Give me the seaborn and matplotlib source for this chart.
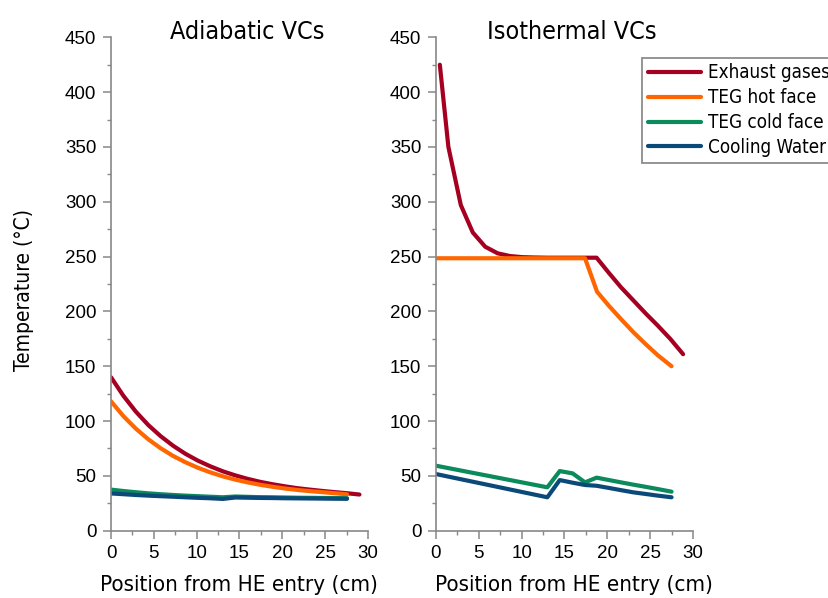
import matplotlib
matplotlib.use("Agg")
import matplotlib.pyplot as plt
from matplotlib import font_manager
from matplotlib.ticker import MultipleLocator
import seaborn as sns
import pandas as pd

# ---------------- data ----------------
series_names = ["Exhaust gases", "TEG hot face", "TEG cold face", "Cooling Water"]
colors = ["#A50021", "#FF6600", "#0B8A5C", "#0B4A78"]

# Adiabatic VCs
adi_x_exh = [0, 1.45, 2.9, 4.35, 5.8, 7.25, 8.7, 10.15, 11.6, 13.05, 14.5, 15.95,
             17.4, 18.85, 20.3, 21.75, 23.2, 24.65, 26.1, 27.55, 29.0]
adi_exh = [140, 123.0, 108.6, 96.4, 86.2, 77.5, 70.1, 63.9, 58.7, 54.2, 50.5, 47.3,
           44.6, 42.4, 40.5, 38.8, 37.5, 36.3, 35.2, 34.2, 33.0]
adi_x = [0, 1.45, 2.9, 4.35, 5.8, 7.25, 8.7, 10.15, 11.6, 13.05, 14.5, 15.95,
         17.4, 18.85, 20.3, 21.75, 23.2, 24.65, 26.1, 27.55]
adi_hot = [118, 104.5, 93.1, 83.4, 75.2, 68.2, 62.4, 57.4, 53.2, 49.6, 46.6, 44.1,
           41.9, 40.1, 38.5, 37.2, 36.1, 35.2, 34.2, 33.2]
adi_cold = [37.5, 36.2, 35.1, 34.1, 33.3, 32.6, 32.0, 31.5, 31.0, 30.5, 31.2, 30.9,
            30.6, 30.5, 30.3, 30.1, 30.0, 29.9, 29.8, 29.7]
adi_water = [34.0, 33.3, 32.6, 32.0, 31.5, 31.0, 30.5, 30.0, 29.6, 29.0, 30.3, 30.1,
             29.9, 29.8, 29.6, 29.5, 29.4, 29.3, 29.2, 29.1]

# Isothermal VCs
iso_x_exh = [0.45, 1.45, 2.9, 4.3, 5.75, 7.2, 8.65, 10.1, 11.5, 13.0, 14.4, 15.9,
             17.3, 18.75, 20.2, 21.6, 23.05, 24.5, 25.9, 27.35, 28.85]
iso_exh = [425, 350, 297, 272, 259, 253, 250.5, 249.5, 249.2, 249, 249, 249,
           249, 249, 235, 222, 210, 198, 187, 175, 161]
iso_x_hot = [0, 17.4, 18.8, 20.2, 21.6, 23.05, 24.5, 25.9, 27.5]
iso_hot = [248.5, 248.5, 218, 205, 193, 181, 170, 160, 150]
iso_x_low = [0, 13.0, 14.45, 15.95, 17.4, 18.75, 20.2, 21.6, 23.05, 24.5, 25.9, 27.5]
iso_cold = [59.3, 39.6, 54.4, 52.3, 44.1, 48.4, 46.2, 44.1, 42.0, 40.0, 38.0, 35.6]
iso_water = [51.7, 30.5, 46.2, 43.8, 41.7, 41.0, 39.0, 37.0, 35.0, 33.5, 32.0, 30.5]

# ---------------- style ----------------
sns.set_theme(style="white")
names = {f.name for f in font_manager.fontManager.ttflist}
if "Liberation Sans Narrow" in names:
    cond = dict(family=["Liberation Sans Narrow", "DejaVu Sans"])
else:
    cond = dict(family=["DejaVu Sans"], stretch="condensed")
tick_family = ["Liberation Sans", "DejaVu Sans"]
plt.rcParams["font.family"] = tick_family
plt.rcParams["text.color"] = "black"
plt.rcParams["axes.labelcolor"] = "black"
plt.rcParams["xtick.labelcolor"] = "black"
plt.rcParams["ytick.labelcolor"] = "black"

fig = plt.figure(figsize=(8.29, 5.98), dpi=100)
ax1 = fig.add_axes([0.1339, 0.1125, 0.310, 0.8251])
ax2 = fig.add_axes([0.5259, 0.1125, 0.310, 0.8251])

def draw(ax, datasets):
    for (x, y), name, c in zip(datasets, series_names, colors):
        df = pd.DataFrame({"x": x, "y": y})
        sns.lineplot(data=df, x="x", y="y", ax=ax, color=c, linewidth=3.0,
                     label=name, sort=False, legend=False, estimator=None)

draw(ax1, [(adi_x_exh, adi_exh), (adi_x, adi_hot), (adi_x, adi_cold), (adi_x, adi_water)])
draw(ax2, [(iso_x_exh, iso_exh), (iso_x_hot, iso_hot), (iso_x_low, iso_cold), (iso_x_low, iso_water)])

for ax, title, lx in [(ax1, "Adiabatic VCs", 0.496), (ax2, "Isothermal VCs", 0.537)]:
    ax.set_xlim(0, 30)
    ax.set_ylim(0, 450)
    ax.xaxis.set_major_locator(MultipleLocator(5))
    ax.xaxis.set_minor_locator(MultipleLocator(2.5))
    ax.yaxis.set_major_locator(MultipleLocator(50))
    ax.yaxis.set_minor_locator(MultipleLocator(25))
    for s in ["top", "right"]:
        ax.spines[s].set_visible(False)
    for s in ["left", "bottom"]:
        ax.spines[s].set_color("#888888")
        ax.spines[s].set_linewidth(1.2)
    ax.tick_params(which="major", direction="out", length=5.5, width=1.1,
                   color="#888888", labelsize=13.5, labelcolor="black", pad=5,
                   left=True, bottom=True)
    ax.tick_params(which="minor", direction="out", length=3.2, width=1.0,
                   color="#888888", left=True, bottom=True)
    ax.set_xlabel("Position from HE entry (cm)", fontsize=16, color="black", **cond)
    ax.xaxis.set_label_coords(lx, -0.09)
    ax.set_ylabel("")
    ax.set_title(title, fontsize=18, pad=-1.5, y=1.0, x=0.53, color="black", **cond)
    ax.set_facecolor("white")
    ax.grid(False)

ax1.set_ylabel("Temperature (°C)", fontsize=15, color="black", **cond)
ax1.yaxis.set_label_coords(-0.300, 0.488)

handles, labels = ax2.get_legend_handles_labels()
leg = fig.legend(handles, labels, loc="upper left",
                 bbox_to_anchor=(642 / 829, 1 - 57.5 / 598),
                 bbox_transform=fig.transFigure,
                 frameon=True, fancybox=False, borderaxespad=0,
                 handlelength=2.83, handletextpad=0.37, labelspacing=0.31,
                 borderpad=0.32,
                 prop=font_manager.FontProperties(size=13.5, **cond))
leg.get_frame().set_edgecolor("#707070")
leg.get_frame().set_linewidth(1.3)
for t in leg.get_texts():
    t.set_color("black")

fig.savefig("out.png", dpi=100)
